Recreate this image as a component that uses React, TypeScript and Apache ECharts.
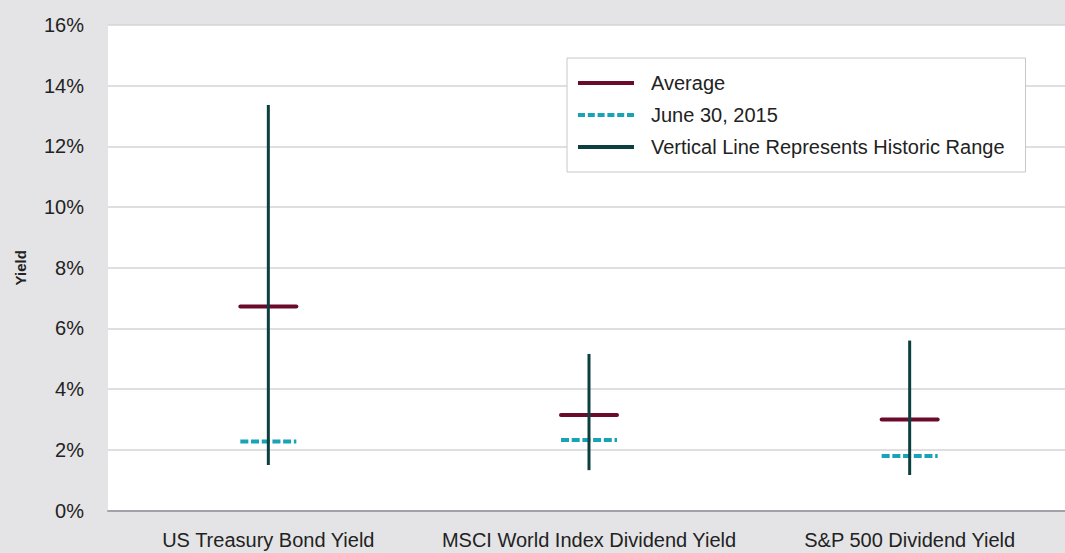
import React, { useEffect, useRef } from "react";
import * as echarts from "echarts";

const categories = ["US Treasury Bond Yield", "MSCI World Index Dividend Yield", "S&P 500 Dividend Yield"];
const averageValues = [6.72, 3.15, 3.0];
const juneValues = [2.27, 2.32, 1.8];
const rangeLow = [1.5, 1.33, 1.17];
const rangeHigh = [13.36, 5.16, 5.6];
const yTicks = { min: 0, max: 16, interval: 2 };

const AVG_COLOR = "#6a0b2c";
const JUNE_COLOR = "#1aa2b6";
const RANGE_COLOR = "#0c3f3f";
const TEXT = "#222222";
const FONT = "'Liberation Sans', Arial, sans-serif";

const dashIcon = (() => {
  let d = "path://";
  for (let i = 0; i < 6; i++) {
    const x = (i * 9.8).toFixed(1);
    d += `M${x},0h7v4h-7z `;
  }
  return d.trim();
})();

export default function App() {
  const ref = useRef<HTMLDivElement>(null);
  useEffect(() => {
    if (!ref.current) return;
    const chart = echarts.init(ref.current, undefined, { renderer: "svg" });
    const half = 28;
    chart.setOption({
      animation: false,
      backgroundColor: "#e4e4e6",
      textStyle: { fontFamily: FONT },
      grid: { left: 108, right: 0, top: 25, bottom: 42.5, show: true, backgroundColor: "#ffffff", borderWidth: 0 },
      legend: {
        orient: "vertical",
        left: 567,
        top: 58,
        itemWidth: 56,
        itemHeight: 4,
        itemGap: 12,
        padding: [15, 21, 15, 11],
        backgroundColor: "#ffffff",
        borderColor: "#c8c8cc",
        borderWidth: 1,
        borderRadius: 0,
        textStyle: { fontSize: 20, lineHeight: 20, color: TEXT, fontFamily: FONT, padding: [0, 0, 0, 12] },
        data: [
          { name: "Average", icon: "path://M0,0h56v4h-56z", itemStyle: { color: AVG_COLOR } },
          { name: "June 30, 2015", icon: dashIcon, itemStyle: { color: JUNE_COLOR } },
          { name: "Vertical Line Represents Historic Range", icon: "path://M0,0h56v4h-56z", itemStyle: { color: RANGE_COLOR } },
        ],
      },
      xAxis: {
        type: "category",
        data: categories,
        axisTick: { show: false },
        axisLine: { lineStyle: { color: "#a2a2aa", width: 2 } },
        axisLabel: { fontSize: 20, color: TEXT, margin: 19, interval: 0, fontFamily: FONT },
        splitLine: { show: false },
      },
      yAxis: {
        type: "value",
        min: yTicks.min,
        max: yTicks.max,
        interval: yTicks.interval,
        name: "Yield",
        nameLocation: "middle",
        nameRotate: 90,
        nameGap: 80,
        nameTextStyle: { fontSize: 15, fontWeight: "bold", color: TEXT, fontFamily: "'Liberation Sans Narrow', 'Liberation Sans', sans-serif" },
        axisLine: { show: false },
        axisTick: { show: false },
        axisLabel: { formatter: "{value}%", fontSize: 20, color: TEXT, margin: 24, fontFamily: FONT },
        splitLine: { lineStyle: { color: "#d4d4d8", width: 1.5 } },
      },
      series: [
        {
          name: "Average",
          type: "custom",
          itemStyle: { color: AVG_COLOR },
          encode: { x: 0, y: 1 },
          data: averageValues.map((v, i) => [i, v]),
          renderItem: (params: any, api: any) => {
            const p = api.coord([api.value(0), api.value(1)]);
            return {
              type: "line",
              shape: { x1: p[0] - half, y1: p[1], x2: p[0] + half, y2: p[1] },
              style: { stroke: AVG_COLOR, lineWidth: 4, lineCap: "round" },
            };
          },
        },
        {
          name: "June 30, 2015",
          type: "custom",
          itemStyle: { color: JUNE_COLOR },
          encode: { x: 0, y: 1 },
          data: juneValues.map((v, i) => [i, v]),
          renderItem: (params: any, api: any) => {
            const p = api.coord([api.value(0), api.value(1)]);
            return {
              type: "line",
              shape: { x1: p[0] - half, y1: p[1], x2: p[0] + half, y2: p[1] },
              style: { stroke: JUNE_COLOR, lineWidth: 4, lineDash: [8, 2.7], lineCap: "butt" },
            };
          },
        },
        {
          name: "Vertical Line Represents Historic Range",
          type: "custom",
          itemStyle: { color: RANGE_COLOR },
          encode: { x: 0, y: [1, 2] },
          data: rangeLow.map((v, i) => [i, v, rangeHigh[i]]),
          renderItem: (params: any, api: any) => {
            const lo = api.coord([api.value(0), api.value(1)]);
            const hi = api.coord([api.value(0), api.value(2)]);
            return {
              type: "line",
              shape: { x1: lo[0], y1: lo[1], x2: hi[0], y2: hi[1] },
              style: { stroke: RANGE_COLOR, lineWidth: 3 },
            };
          },
        },
      ],
    });
    return () => chart.dispose();
  }, []);
  return (
    <div style={{ width: 1065, height: 553, position: "fixed", left: 0, top: 0, overflow: "hidden", background: "#e4e4e6" }}>
      <div ref={ref} style={{ width: 1070, height: 553 }} />
    </div>
  );
}
